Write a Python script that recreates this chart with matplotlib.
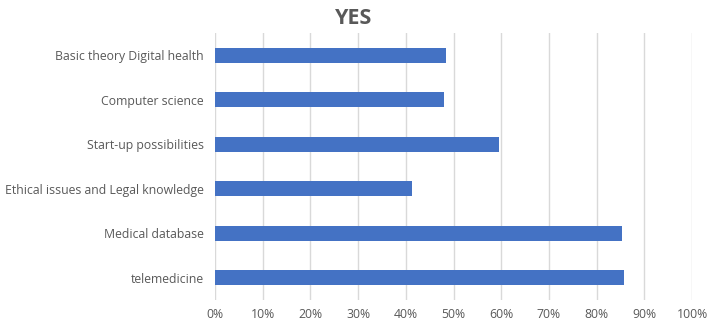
import matplotlib
matplotlib.use('Agg')
import matplotlib.pyplot as plt
from matplotlib.ticker import FuncFormatter

# Data (top to bottom as shown in the chart)
categories = ["Basic theory Digital health", "Computer science", "Start-up possibilities",
              "Ethical issues and Legal knowledge", "Medical database", "telemedicine"]
values = [48.4, 47.9, 59.5, 41.2, 85.4, 85.8]
xticks = [0, 10, 20, 30, 40, 50, 60, 70, 80, 90, 100]

plt.rcParams['font.family'] = ['Open Sans', 'DejaVu Sans']

fig = plt.figure(figsize=(7.07, 3.24), dpi=100)
ax = fig.add_axes([0.304, 0.074, 0.675, 0.824])

ypos = list(range(len(categories)))[::-1]
ax.barh(ypos, values, height=0.34, color='#4472C4', zorder=3)

ax.set_xlim(0, 100)
ax.set_ylim(-0.5, len(categories) - 0.5)
ax.set_xticks(xticks)
ax.xaxis.set_major_formatter(FuncFormatter(lambda v, p: f'{v:.0f}%'))
ax.set_yticks(ypos)
ax.set_yticklabels(categories)

ax.grid(True, axis='x', color='#D9D9D9', linewidth=1, zorder=0)
for s in ax.spines.values():
    s.set_visible(False)
ax.tick_params(axis='both', length=0, labelsize=8.8, labelcolor='#595959')
ax.tick_params(axis='y', pad=8)
ax.tick_params(axis='x', pad=6)

fig.text(0.5, 0.975, 'YES', ha='center', va='top', fontsize=15.5, fontweight='bold', color='#595959')

plt.savefig('out.png', dpi=100)
plt.close()
